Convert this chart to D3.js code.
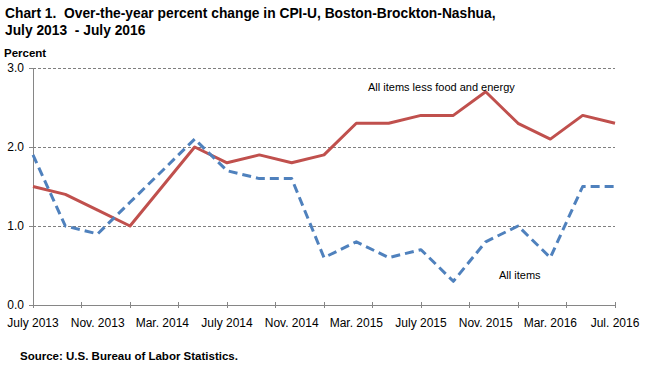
<!DOCTYPE html>
<html>
<head>
<meta charset="utf-8">
<script src="https://cdn.jsdelivr.net/npm/d3@7/dist/d3.min.js"></script>
<style>
  body { margin: 0; background: #fff; }
  svg { display: block; }
  text { white-space: pre; }
</style>
</head>
<body>
<svg id="chart" width="668" height="390"></svg>
<script>
// ---- data ----
const months = ["Jul 2013","Sep 2013","Nov 2013","Jan 2014","Mar 2014","May 2014","Jul 2014","Sep 2014","Nov 2014","Jan 2015","Mar 2015","May 2015","Jul 2015","Sep 2015","Nov 2015","Jan 2016","Mar 2016","May 2016","Jul 2016"];
const allItems = [1.9,1.0,0.9,1.3,1.7,2.1,1.7,1.6,1.6,0.6,0.8,0.6,0.7,0.3,0.8,1.0,0.6,1.5,1.5];
const coreItems = [1.5,1.4,1.2,1.0,1.5,2.0,1.8,1.9,1.8,1.9,2.3,2.3,2.4,2.4,2.7,2.3,2.1,2.4,2.3];
const xLabels = ["July 2013","Nov. 2013","Mar. 2014","July 2014","Nov. 2014","Mar. 2015","July 2015","Nov. 2015","Mar. 2016","Jul. 2016"];
const yTicks = [0, 1, 2, 3];

const svg = d3.select("#chart");
const mLeft = 33, mRight = 615, mTop = 68, mBottom = 305;

const x = d3.scaleLinear().domain([0, months.length - 1]).range([mLeft, mRight]);
const y = d3.scaleLinear().domain([0, 3]).range([mBottom, mTop]);

const sans = "'Liberation Sans',Arial,sans-serif";

// title (condensed), two separate text lines
const tScale = 0.92;
const titleLines = ["Chart 1.  Over-the-year percent change in CPI-U, Boston-Brockton-Nashua,", "July 2013  - July 2016"];
svg.append("g").attr("transform", `scale(${tScale},1)`)
  .selectAll("text").data(titleLines).join("text")
  .attr("x", 5 / tScale).attr("y", (d, i) => 18 + i * 17)
  .attr("font-family", sans)
  .attr("font-weight", "bold").attr("font-size", 15).attr("fill", "#000")
  .text(d => d);

svg.append("text").attr("x", 4).attr("y", 57)
  .attr("font-family", sans)
  .attr("font-weight", "bold").attr("font-size", 11.5).text("Percent");

// gridlines
svg.append("g").selectAll("line").data(yTicks.filter(d => d > 0)).join("line")
  .attr("x1", mLeft).attr("x2", mRight)
  .attr("y1", d => y(d)).attr("y2", d => y(d))
  .attr("stroke", "#7f7f7f").attr("stroke-width", 1).attr("stroke-dasharray", "3,2")
  .attr("shape-rendering", "crispEdges");

// y axis
const yAxis = d3.axisLeft(y).tickValues(yTicks).tickFormat(d3.format(".1f")).tickSize(4).tickPadding(5);
const gy = svg.append("g").attr("transform", `translate(${mLeft},0)`).call(yAxis);
gy.select(".domain").attr("stroke", "#868686").attr("shape-rendering", "crispEdges");
gy.selectAll(".tick line").attr("stroke", "#868686").attr("shape-rendering", "crispEdges");
gy.selectAll(".tick text").attr("font-family", sans).attr("font-size", 12).attr("fill", "#000");

// x axis: ticks every 1.5 data intervals (3 months), labels every 2 intervals
const tickIdx = d3.range(0, months.length - 1 + 0.01, 1.5);
const gx = svg.append("g").attr("transform", `translate(0,${mBottom})`);
gx.append("line").attr("x1", mLeft).attr("x2", mRight).attr("y1", 0).attr("y2", 0)
  .attr("stroke", "#868686").attr("shape-rendering", "crispEdges");
gx.selectAll("line.tk").data(tickIdx).join("line").attr("class", "tk")
  .attr("x1", d => x(d)).attr("x2", d => x(d)).attr("y1", -3).attr("y2", 3)
  .attr("stroke", "#868686").attr("shape-rendering", "crispEdges");
gx.selectAll("text").data(xLabels).join("text")
  .attr("x", (d, i) => x(i * 2)).attr("y", 22)
  .attr("text-anchor", "middle")
  .attr("font-family", sans).attr("font-size", 12).attr("fill", "#000")
  .text(d => d);

// lines
const line = d3.line().x((d, i) => x(i)).y(d => y(d));
svg.append("path").datum(coreItems).attr("d", line)
  .attr("fill", "none").attr("stroke", "#C0504D").attr("stroke-width", 3).attr("stroke-linejoin", "round");
svg.append("path").datum(allItems).attr("d", line)
  .attr("fill", "none").attr("stroke", "#4F81BD").attr("stroke-width", 3)
  .attr("stroke-dasharray", "9,5").attr("stroke-linejoin", "round");

// annotations
svg.append("text").attr("x", 368).attr("y", 91)
  .attr("font-family", sans).attr("font-size", 11).attr("fill", "#000")
  .text("All items less food and energy");
svg.append("text").attr("x", 499).attr("y", 279)
  .attr("font-family", sans).attr("font-size", 11).attr("fill", "#000")
  .text("All items");

// source
svg.append("text").attr("x", 20).attr("y", 360)
  .attr("font-family", sans)
  .attr("font-weight", "bold").attr("font-size", 11.5).attr("fill", "#000")
  .text("Source: U.S. Bureau of Labor Statistics.");
</script>
</body>
</html>
